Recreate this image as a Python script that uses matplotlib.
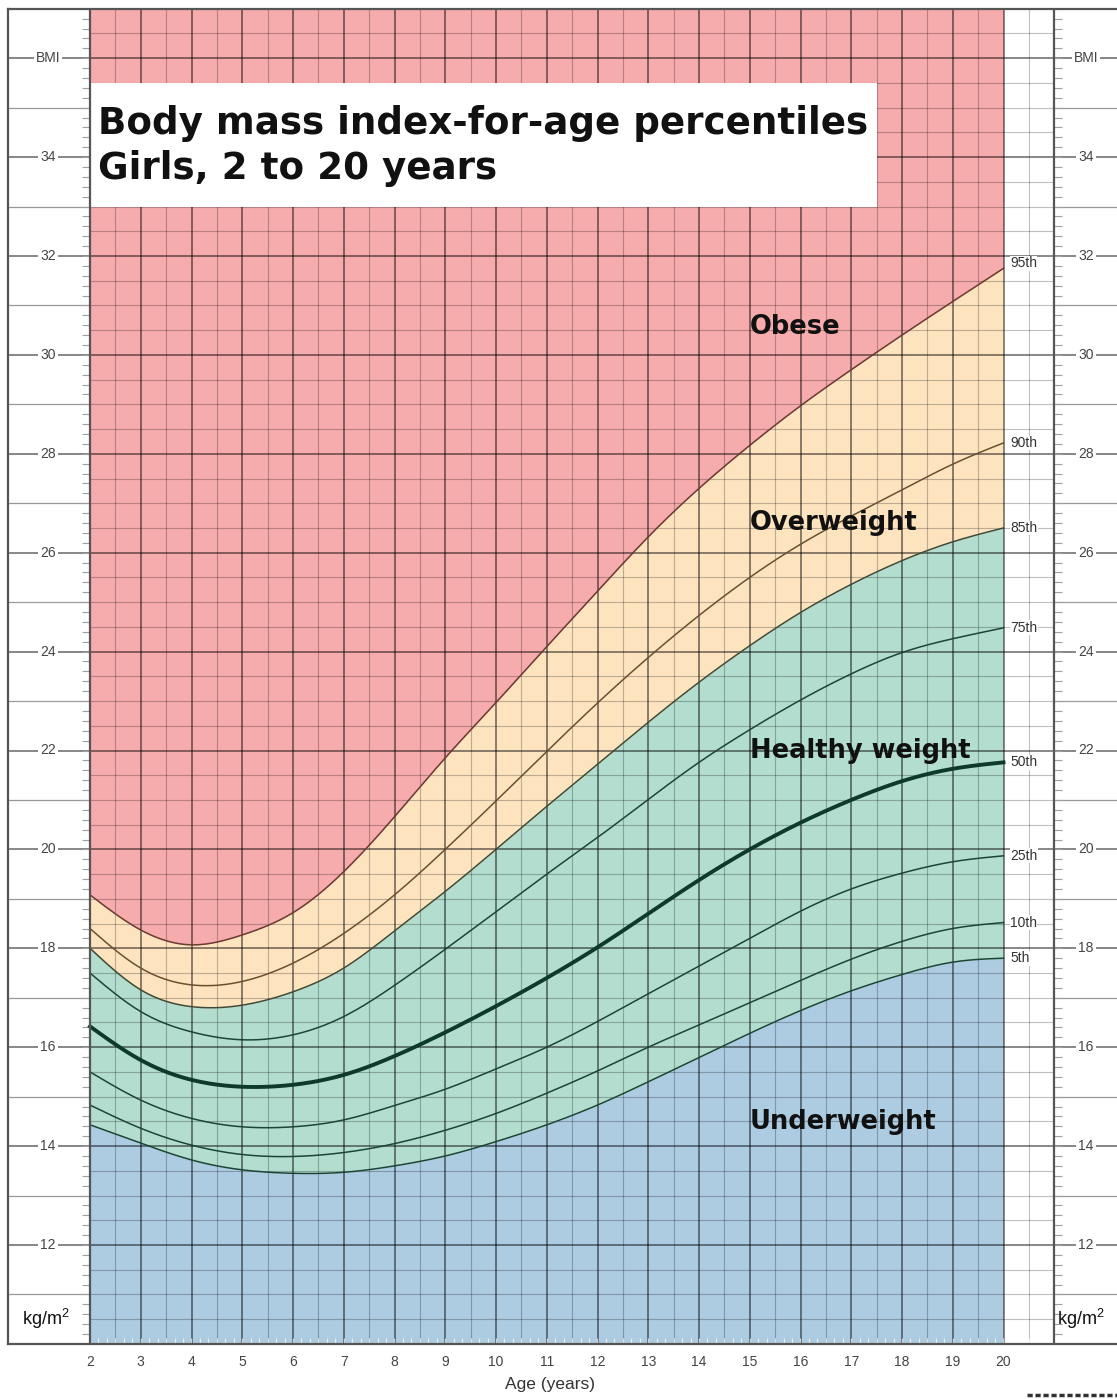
import numpy as np
import matplotlib
matplotlib.use("Agg")
import matplotlib.pyplot as plt
from matplotlib.patches import Rectangle
from matplotlib.lines import Line2D
from matplotlib.collections import LineCollection

# ---------------- data ----------------
ages = [2, 3, 4, 5, 6, 7, 8, 9, 10, 11, 12, 13, 14, 15, 16, 17, 18, 19, 20]
p5 = [14.43, 14.06, 13.72, 13.52, 13.45, 13.47, 13.60, 13.80, 14.09, 14.43,
      14.83, 15.30, 15.79, 16.28, 16.74, 17.14, 17.47, 17.72, 17.80]
p10 = [14.83, 14.36, 14.02, 13.83, 13.79, 13.87, 14.05, 14.32, 14.66, 15.07,
       15.52, 16.00, 16.45, 16.90, 17.35, 17.78, 18.14, 18.40, 18.52]
p25 = [15.50, 14.93, 14.56, 14.39, 14.39, 14.53, 14.82, 15.15, 15.56, 16.00,
       16.52, 17.08, 17.64, 18.20, 18.75, 19.20, 19.52, 19.75, 19.87]
p50 = [16.42, 15.74, 15.34, 15.20, 15.24, 15.44, 15.82, 16.30, 16.83, 17.40,
       18.02, 18.70, 19.38, 20.00, 20.54, 21.00, 21.38, 21.63, 21.76]
p75 = [17.50, 16.72, 16.31, 16.15, 16.25, 16.62, 17.25, 17.98, 18.74, 19.50,
       20.24, 21.01, 21.76, 22.42, 23.02, 23.55, 23.98, 24.26, 24.48]
p85 = [18.00, 17.16, 16.82, 16.85, 17.12, 17.60, 18.35, 19.15, 20.00, 20.87,
       21.72, 22.57, 23.38, 24.12, 24.79, 25.36, 25.84, 26.22, 26.50]
p90 = [18.40, 17.60, 17.26, 17.33, 17.70, 18.30, 19.08, 20.00, 20.98, 21.98,
       22.96, 23.88, 24.73, 25.50, 26.17, 26.74, 27.27, 27.79, 28.22]
p95 = [19.08, 18.37, 18.07, 18.27, 18.72, 19.55, 20.66, 21.85, 22.97, 24.10,
       25.22, 26.32, 27.30, 28.17, 28.97, 29.70, 30.40, 31.08, 31.75]

percentile_names = ["5th", "10th", "25th", "50th", "75th", "85th", "90th", "95th"]
x_tick_labels = [str(a) for a in range(2, 21)]
bmi_tick_values = [12, 14, 16, 18, 20, 22, 24, 26, 28, 30, 32, 34]
category_names = ["Obese", "Overweight", "Healthy weight", "Underweight"]
title_lines = ["Body mass index-for-age percentiles", "Girls, 2 to 20 years"]

# ---------------- layout ----------------
W_PX, H_PX = 1117, 1399
PX_YR = 50.75          # pixels per year
X_AGE2 = 90.0          # pixel x of age 2
PX_BMI = 49.45         # pixels per BMI unit
Y_BMI12 = 1245.0       # pixel y of BMI 12

def age_at(px):
    return 2 + (px - X_AGE2) / PX_YR

def ypx(bmi):
    return Y_BMI12 - (bmi - 12) * PX_BMI

x_lo, x_hi = age_at(8), age_at(1135)
y_lo, y_hi = 10, 37

fig = plt.figure(figsize=(W_PX / 100, H_PX / 100), dpi=100)
fig.patch.set_facecolor("white")
ax = fig.add_axes([8 / W_PX, 1 - ypx(y_lo) / H_PX,
                   (1135 - 8) / W_PX, (ypx(y_lo) - ypx(y_hi)) / H_PX])
ax.set_xlim(x_lo, x_hi)
ax.set_ylim(y_lo, y_hi)

# natural cubic spline for smooth drawing of the read values
def nat_spline(x, y, xs):
    x = np.asarray(x, float); y = np.asarray(y, float)
    n = len(x); h = np.diff(x)
    A = np.zeros((n, n)); r = np.zeros(n)
    A[0, 0] = A[-1, -1] = 1
    for i in range(1, n - 1):
        A[i, i - 1] = h[i - 1]; A[i, i] = 2 * (h[i - 1] + h[i]); A[i, i + 1] = h[i]
        r[i] = 3 * ((y[i + 1] - y[i]) / h[i] - (y[i] - y[i - 1]) / h[i - 1])
    c = np.linalg.solve(A, r)
    b = (y[1:] - y[:-1]) / h - h * (2 * c[:-1] + c[1:]) / 3
    d = (c[1:] - c[:-1]) / (3 * h)
    idx = np.clip(np.searchsorted(x, xs) - 1, 0, n - 2)
    dx = xs - x[idx]
    return y[idx] + b[idx] * dx + c[idx] * dx ** 2 + d[idx] * dx ** 3

xs = np.linspace(ages[0], ages[-1], 600)
curves = {name: nat_spline(ages, vals, xs) for name, vals in
          zip(percentile_names, [p5, p10, p25, p50, p75, p85, p90, p95])}

C_PINK, C_YEL, C_GRN, C_BLU = "#F6ABAC", "#FDE4BF", "#B2DDCF", "#ADCBE1"
ax.fill_between(xs, y_lo, curves["5th"], color=C_BLU, lw=0, zorder=0)
ax.fill_between(xs, curves["5th"], curves["85th"], color=C_GRN, lw=0, zorder=0)
ax.fill_between(xs, curves["85th"], curves["95th"], color=C_YEL, lw=0, zorder=0)
ax.fill_between(xs, curves["95th"], y_hi, color=C_PINK, lw=0, zorder=0)

# grid inside chart (ages 2..21)
for a in np.arange(2.5, 21.0, 0.5):
    major = abs(a - round(a)) < 1e-6
    ax.plot([a, a], [y_lo, y_hi], color="black", alpha=0.5 if major else 0.25,
            lw=1.3 if major else 0.8, zorder=1, solid_capstyle="butt")
for b in np.arange(10.5, 37.0, 0.5):
    even = abs(b - round(b)) < 1e-6 and int(round(b)) % 2 == 0
    ax.plot([2, 21], [b, b], color="black", alpha=0.5 if even else 0.25,
            lw=1.3 if even else 0.8, zorder=1, solid_capstyle="butt")

# margin lines
for b in range(11, 37):
    even = b % 2 == 0
    for xa, xb in [(x_lo, 2), (21, x_hi)]:
        ax.plot([xa, xb], [b, b], color="#666" if even else "#999",
                lw=1.1 if even else 0.9, zorder=1, solid_capstyle="butt")

# small ticks on chart edges
segs = []
for b in np.arange(10, 37.001, 0.2):
    segs.append([(2 - 8 / PX_YR, b), (2, b)])
    segs.append([(21, b), (21 + 8 / PX_YR, b)])
ax.add_collection(LineCollection(segs, colors="#a0a0a0", linewidths=0.8, zorder=2))
segs = [[(a, y_lo), (a, y_lo + 6 / PX_BMI)] for a in np.arange(2, 21.0, 1 / 6)]
ax.add_collection(LineCollection(segs, colors="white", linewidths=0.9, alpha=0.7, zorder=2))

# percentile curves
for name in percentile_names:
    if name == "50th":
        col, lw = "#0d3a2b", 2.8
    elif name == "95th":
        col, lw = "#6b3a30", 1.1
    elif name == "90th":
        col, lw = "#6b5030", 1.1
    elif name == "85th":
        col, lw = "#3e4a36", 1.1
    else:
        col, lw = "#1c4536", 1.1
    ax.plot(xs, curves[name], color=col, lw=lw, zorder=3)

# chart borders
for a in (2, 21):
    ax.plot([a, a], [y_lo, y_hi], color="#555", lw=1.6, zorder=6, solid_capstyle="butt")
for side in ("left", "bottom", "top"):
    ax.spines[side].set_color("#555")
    ax.spines[side].set_linewidth(1.6)
ax.spines["right"].set_visible(False)

# title box
ax.add_patch(Rectangle((2, 33.0), 15.5, 2.5, facecolor="white", edgecolor="none", zorder=4))
ax.text(age_at(98), 34.46, title_lines[0], fontsize=26.8, fontweight="bold",
        family="DejaVu Sans", color="#111", va="baseline", ha="left", zorder=5)
ax.text(age_at(98), 33.56, title_lines[1], fontsize=26.8, fontweight="bold",
        family="DejaVu Sans", color="#111", va="baseline", ha="left", zorder=5)

# category labels
cat_y = [30.42, 26.46, 21.85, 14.35]
for name, yb in zip(category_names, cat_y):
    ax.text(15.0, yb, name, fontsize=18.5, fontweight="bold", family="DejaVu Sans",
            color="#111", va="baseline", ha="left", zorder=5)

# percentile labels at right end
for name in percentile_names:
    yv = curves[name][-1] + (0.1 if name == "95th" else 0.0)
    ax.text(age_at(1010), yv, name, fontsize=10, family="Liberation Sans",
            color="#333", va="center", ha="left", zorder=5,
            bbox=dict(facecolor="white", edgecolor="none", pad=0.3))

# BMI scale labels in margins
lab_kw = dict(fontsize=10, family="Liberation Sans", color="#444",
              va="center", ha="center", zorder=5,
              bbox=dict(facecolor="white", edgecolor="none", pad=1.5))
for v in bmi_tick_values:
    ax.text(age_at(48), v, str(v), **lab_kw)
    ax.text(age_at(1086), v, str(v), **lab_kw)
ax.text(age_at(48), 36, "BMI", **lab_kw)
ax.text(age_at(1086), 36, "BMI", **lab_kw)
ax.text(age_at(46), 10.5, "kg/m$^\\mathregular{2}$", fontsize=13, family="Liberation Sans",
        color="#111", va="center", ha="center", zorder=5)
ax.text(age_at(1057), 10.5, "kg/m$^\\mathregular{2}$", fontsize=13, family="Liberation Sans",
        color="#111", va="center", ha="left", zorder=5)

# x axis
ax.set_xticks(list(range(2, 21)))
ax.set_xticklabels(x_tick_labels, fontsize=10, family="Liberation Sans", color="#444")
ax.tick_params(axis="x", length=0, pad=8)
ax.set_yticks([])
fig.text(550 / W_PX, 1 - 1385 / H_PX, "Age (years)", fontsize=12.5,
         family="Liberation Sans", color="#333", ha="center", va="center")

# cut-off mark in lower right corner
fig.add_artist(Line2D([1027 / W_PX, 1.0], [1 - 1395 / H_PX] * 2,
                      transform=fig.transFigure, color="#333", lw=2.5,
                      linestyle=(0, (1.5, 0.8))))

fig.savefig("out.png", dpi=100, facecolor="white")
